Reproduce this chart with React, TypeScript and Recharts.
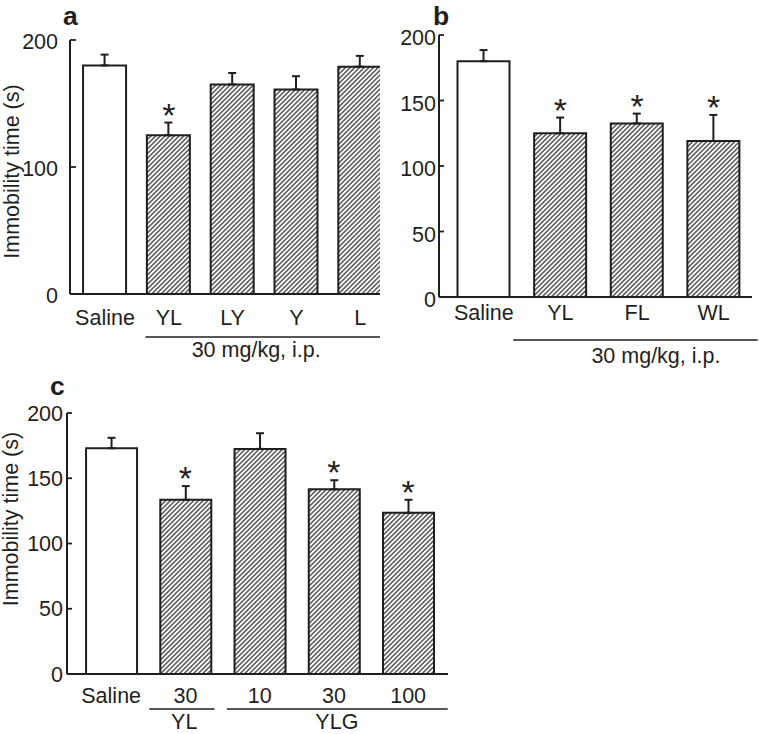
import React from 'react';
import { ComposedChart, Bar, XAxis, YAxis, ErrorBar, Cell, Scatter } from 'recharts';

const FONT = '"Liberation Sans", Arial, Helvetica, sans-serif';
const INK = '#1f1f1f';

// ---------- Panel a ----------
const catsA = ['Saline', 'YL', 'LY', 'Y', 'L'];
const valsA = [180, 125, 165, 161, 179];
const errsA = [8.5, 10, 9, 10.5, 8.5];
const sigA = [false, true, false, false, false];
const yTicksA = [0, 100, 200];
const groupsA = [{ label: '30 mg/kg, i.p.', first: 1 }];

// ---------- Panel b ----------
const catsB = ['Saline', 'YL', 'FL', 'WL'];
const valsB = [180, 125, 132.5, 119];
const errsB = [8.5, 12, 7.5, 20];
const sigB = [false, true, true, true];
const yTicksB = [0, 50, 100, 150, 200];
const groupsB = [{ label: '30 mg/kg, i.p.', first: 1 }];

// ---------- Panel c ----------
const catsC = ['Saline', '30', '10', '30', '100'];
const valsC = [173, 133.5, 172.5, 141.5, 123.5];
const errsC = [8, 10.5, 12, 7, 10];
const sigC = [false, true, false, true, true];
const yTicksC = [0, 50, 100, 150, 200];
const groupsC = [
  { label: 'YL', first: 1 },
  { label: 'YLG', first: 2 },
];

const yTitle = 'Immobility time (s)';

const build = (cats: string[], vals: number[], errs: number[], sig: boolean[]) =>
  cats.map((c, i) => ({
    x: i,
    cat: c,
    value: vals[i],
    err: [0, errs[i]],
    top: vals[i] + errs[i],
    sig: sig[i],
  }));

type Cfg = {
  id: string;
  left: number;
  top: number;
  width: number;
  height: number;
  marginTop: number;
  marginRight: number;
  yAxisWidth: number;
  xAxisHeight: number;
  xDomain: [number, number];
  barSize: number;
  tickMargin: number;
  tickLen: number;
  tickTextDy: number;
  catDy: number;
  lineDy: number;
  groupDy: number;
  groupLayout: { from: number; to: number; labelAt: number }[];
  capHalf: number;
};

const cfgA: Cfg = {
  id: 'a', left: 0, top: 0, width: 390, height: 370,
  marginTop: 40, marginRight: 10, yAxisWidth: 70, xAxisHeight: 76,
  xDomain: [-0.548, 4.31], barSize: 43,
  tickMargin: 12, tickLen: 6, tickTextDy: 9,
  catDy: 31, lineDy: 43, groupDy: 63,
  groupLayout: [{ from: 0.634, to: 4.31, labelAt: 2.37 }],
  capHalf: 4,
};

const cfgB: Cfg = {
  id: 'b', left: 370, top: 0, width: 389, height: 370,
  marginTop: 35, marginRight: 7, yAxisWidth: 69, xAxisHeight: 73,
  xDomain: [-0.585, 3.5], barSize: 52,
  tickMargin: 3, tickLen: 5, tickTextDy: 10,
  catDy: 23, lineDy: 43, groupDy: 66,
  groupLayout: [{ from: 0.384, to: 3.574, labelAt: 2.246 }],
  capHalf: 4,
};

const cfgC: Cfg = {
  id: 'c', left: 0, top: 370, width: 460, height: 364,
  marginTop: 43, marginRight: 12, yAxisWidth: 67, xAxisHeight: 60,
  xDomain: [-0.595, 4.537], barSize: 51,
  tickMargin: 4, tickLen: 5, tickTextDy: 7.5,
  catDy: 29, lineDy: 35, groupDy: 55,
  groupLayout: [
    { from: 0.513, to: 1.392, labelAt: 0.984 },
    { from: 1.559, to: 4.533, labelAt: 3.04 },
  ],
  capHalf: 4,
};

const textStyle = { fontFamily: FONT, fontSize: 21.5, fill: INK };

function Panel({
  cfg, cats, vals, errs, sig, yTicks, groups,
}: {
  cfg: Cfg; cats: string[]; vals: number[]; errs: number[]; sig: boolean[];
  yTicks: number[]; groups: { label: string; first: number }[];
}) {
  const data = build(cats, vals, errs, sig);
  const step = (cfg.width - cfg.yAxisWidth - cfg.marginRight) / (cfg.xDomain[1] - cfg.xDomain[0]);
  const hatchId = `hatch-${cfg.id}`;

  const XTick = (props: any) => {
    const { x, y, payload } = props;
    const i = payload.value as number;
    const items: React.ReactNode[] = [
      <text key="cat" x={x} y={y + cfg.catDy} textAnchor="middle" {...textStyle}>
        {cats[i]}
      </text>,
    ];
    groups.forEach((g, gi) => {
      if (g.first === i) {
        const L = cfg.groupLayout[gi];
        items.push(
          <line
            key={`gl${gi}`}
            x1={x + (L.from - i) * step}
            x2={x + (L.to - i) * step}
            y1={y + cfg.lineDy}
            y2={y + cfg.lineDy}
            stroke={INK}
            strokeWidth={1.7}
          />,
        );
        items.push(
          <text key={`gt${gi}`} x={x + (L.labelAt - i) * step} y={y + cfg.groupDy} textAnchor="middle" {...textStyle}>
            {g.label}
          </text>,
        );
      }
    });
    return <g>{items}</g>;
  };

  const YTick = (props: any) => {
    const { x, y, payload } = props;
    const ax = x + cfg.tickMargin;
    return (
      <g>
        {payload.value !== 0 && (
          <line x1={ax} x2={ax + cfg.tickLen} y1={y} y2={y} stroke={INK} strokeWidth={1.8} />
        )}
        <text x={x} y={y + cfg.tickTextDy} textAnchor="end" {...textStyle}>
          {payload.value}
        </text>
      </g>
    );
  };

  const Star = (p: any) => {
    if (!p || !p.payload || !p.payload.sig) return <g />;
    return (
      <text x={p.cx} y={p.cy + 4} textAnchor="middle" fontFamily={FONT} fontSize={34} fill={INK}>
        *
      </text>
    );
  };

  return (
    <div style={{ position: 'absolute', left: cfg.left, top: cfg.top, width: cfg.width, height: cfg.height }}>
      <ComposedChart
        width={cfg.width}
        height={cfg.height}
        data={data}
        margin={{ top: cfg.marginTop, right: cfg.marginRight, bottom: 0, left: 0 }}
        style={{ overflow: 'visible' }}
      >
        <defs>
          <pattern
            id={hatchId}
            patternUnits="userSpaceOnUse"
            width={3.3}
            height={3.3}
            patternTransform="rotate(45)"
          >
            <rect x={0} y={0} width={3.3} height={3.3} fill="#ffffff" />
            <line x1={1.65} y1={0} x2={1.65} y2={3.3} stroke="#2a2a2a" strokeWidth={1.2} />
          </pattern>
        </defs>
        <XAxis
          dataKey="x"
          type="number"
          domain={cfg.xDomain}
          allowDataOverflow
          ticks={cats.map((_, i) => i)}
          interval={0}
          tickLine={false}
          tickSize={0}
          tickMargin={0}
          height={cfg.xAxisHeight}
          axisLine={{ stroke: INK, strokeWidth: 2 }}
          tick={XTick}
        />
        <YAxis
          type="number"
          domain={[0, 200]}
          allowDataOverflow
          ticks={yTicks}
          interval={0}
          tickLine={false}
          tickSize={0}
          tickMargin={cfg.tickMargin}
          width={cfg.yAxisWidth}
          axisLine={{ stroke: INK, strokeWidth: 2 }}
          tick={YTick}
        />
        <Bar dataKey="value" barSize={cfg.barSize} stroke={INK} strokeWidth={2} isAnimationActive={false}>
          {data.map((d, i) => (
            <Cell key={i} fill={d.cat === 'Saline' ? '#ffffff' : `url(#${hatchId})`} />
          ))}
          <ErrorBar dataKey="err" direction="y" width={cfg.capHalf} stroke={INK} strokeWidth={2} isAnimationActive={false} />
        </Bar>
        <Scatter dataKey="top" shape={Star} isAnimationActive={false} />
      </ComposedChart>
    </div>
  );
}

export default function App() {
  return (
    <div style={{ position: 'absolute', left: 0, top: 0, width: 759, height: 734, background: '#fff', overflow: 'hidden' }}>
      <Panel cfg={cfgA} cats={catsA} vals={valsA} errs={errsA} sig={sigA} yTicks={yTicksA} groups={groupsA} />
      <Panel cfg={cfgB} cats={catsB} vals={valsB} errs={errsB} sig={sigB} yTicks={yTicksB} groups={groupsB} />
      <Panel cfg={cfgC} cats={catsC} vals={valsC} errs={errsC} sig={sigC} yTicks={yTicksC} groups={groupsC} />
      <svg width={759} height={734} style={{ position: 'absolute', left: 0, top: 0, pointerEvents: 'none' }}>
        <g fontFamily={FONT} fontWeight="bold" fontSize={26.5} fill={INK}>
          <text x={63} y={24.5}>a</text>
          <text x={433} y={24.5}>b</text>
          <text x={50} y={395}>c</text>
        </g>
        <text
          transform="translate(19, 171.5) rotate(-90)"
          textAnchor="middle"
          {...textStyle}
        >
          {yTitle}
        </text>
        <text
          transform="translate(18, 519) rotate(-90)"
          textAnchor="middle"
          {...textStyle}
        >
          {yTitle}
        </text>
      </svg>
    </div>
  );
}
